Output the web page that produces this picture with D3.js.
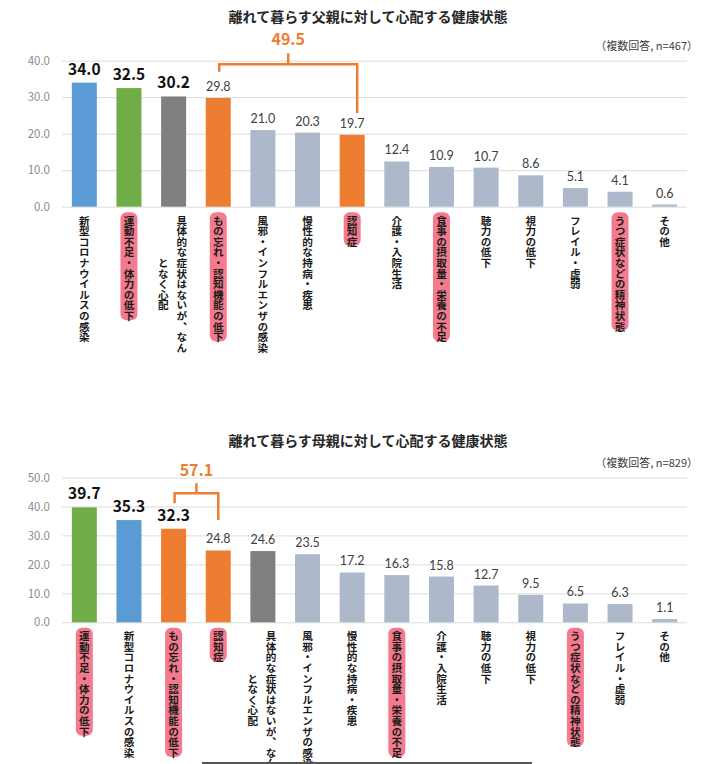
<!DOCTYPE html>
<html>
<head>
<meta charset="utf-8">
<script src="https://cdn.jsdelivr.net/npm/d3@7"></script>
<style>
  body { margin: 0; background: #fff; }
  svg { display: block; }
</style>
</head>
<body>
<div id="chart"></div>
<script>
// data: father chart
const fatherTitle = "離れて暮らす父親に対して心配する健康状態"
const fatherNote = "（複数回答, n=467）"
const fatherCategories = [
  "新型コロナウイルスの感染", "運動不足・体力の低下", "具体的な症状はないが、なんとなく心配",
  "もの忘れ・認知機能の低下", "風邪・インフルエンザの感染", "慢性的な持病・疾患", "認知症",
  "介護・入院生活", "食事の摂取量・栄養の不足", "聴力の低下", "視力の低下",
  "フレイル・虚弱", "うつ症状などの精神状態", "その他"
]
const fatherValues = [34.0, 32.5, 30.2, 29.8, 21.0, 20.3, 19.7, 12.4, 10.9, 10.7, 8.6, 5.1, 4.1, 0.6]
const fatherTicks = [0, 10, 20, 30, 40]
const fatherBracket = { from: "もの忘れ・認知機能の低下", to: "認知症", total: 49.5 }

// data: mother chart
const motherTitle = "離れて暮らす母親に対して心配する健康状態"
const motherNote = "（複数回答, n=829）"
const motherCategories = [
  "運動不足・体力の低下", "新型コロナウイルスの感染", "もの忘れ・認知機能の低下", "認知症",
  "具体的な症状はないが、なんとなく心配", "風邪・インフルエンザの感染", "慢性的な持病・疾患",
  "食事の摂取量・栄養の不足", "介護・入院生活", "聴力の低下", "視力の低下",
  "うつ症状などの精神状態", "フレイル・虚弱", "その他"
]
const motherValues = [39.7, 35.3, 32.3, 24.8, 24.6, 23.5, 17.2, 16.3, 15.8, 12.7, 9.5, 6.5, 6.3, 1.1]
const motherTicks = [0, 10, 20, 30, 40, 50]
const motherBracket = { from: "もの忘れ・認知機能の低下", to: "認知症", total: 57.1 }

// categories marked with the red highlighter
const highlighted = [
  "運動不足・体力の低下", "もの忘れ・認知機能の低下", "認知症",
  "食事の摂取量・栄養の不足", "うつ症状などの精神状態"
]

const colorOf = {
  "新型コロナウイルスの感染": "#5b9bd5",
  "運動不足・体力の低下": "#70ad47",
  "具体的な症状はないが、なんとなく心配": "#7f7f7f",
  "もの忘れ・認知機能の低下": "#ed7d31",
  "認知症": "#ed7d31"
}
const otherColor = "#adb9ca"
const orange = "#ed7d31"

const width = 720
const height = 764
const cjk = "'Noto Sans CJK JP', sans-serif"
const narrow = "'Liberation Sans Narrow', 'Noto Sans CJK JP', sans-serif"

const svg = d3.select("#chart").append("svg")
  .attr("width", width)
  .attr("height", height)

drawChart({
  title: fatherTitle, note: fatherNote, categories: fatherCategories, values: fatherValues,
  ticks: fatherTicks, bracket: fatherBracket,
  titleY: 22, noteY: 50, y0: 206.7, y1: 60.7,
  bracketY: 64.3, bracketTopY: 53.3, totalY: 44.5, leftEnd: 71.7, rightEnd: 113, rightShift: 5
})

drawChart({
  title: motherTitle, note: motherNote, categories: motherCategories, values: motherValues,
  ticks: motherTicks, bracket: motherBracket,
  titleY: 446, noteY: 467, y0: 622.3, y1: 477.5,
  bracketY: 493.3, bracketTopY: 483.3, totalY: 475.5, leftEnd: 503.3, rightEnd: 520, rightShift: 0
})

// dark edge line at the bottom of the picture
svg.append("line")
  .attr("x1", 202).attr("x2", 532)
  .attr("y1", 763).attr("y2", 763)
  .attr("stroke", "#555")
  .attr("stroke-width", 2)

function drawChart(o) {
  const g = svg.append("g")

  const x = d3.scaleBand()
    .domain(o.categories)
    .range([62, 687])
    .paddingInner(0.44)
    .paddingOuter(0.22)

  const y = d3.scaleLinear()
    .domain([0, d3.max(o.ticks)])
    .range([o.y0, o.y1])

  // title and note
  g.append("text")
    .attr("x", 368)
    .attr("y", o.titleY)
    .attr("text-anchor", "middle")
    .style("font-family", cjk)
    .style("font-weight", "bold")
    .style("font-size", "14px")
    .attr("fill", "#262626")
    .text(o.title)

  g.append("text")
    .attr("x", 698)
    .attr("y", o.noteY)
    .attr("text-anchor", "end")
    .style("font-family", narrow)
    .style("font-size", "11px")
    .attr("fill", "#404040")
    .text(o.note)

  // gridlines + y labels
  const yAxis = d3.axisLeft(y)
    .tickValues(o.ticks)
    .tickSize(-625)
    .tickPadding(12)
    .tickFormat(d3.format(".1f"))

  const ax = g.append("g")
    .attr("transform", "translate(62,0)")
    .call(yAxis)
  ax.select(".domain").remove()
  ax.selectAll("line").attr("stroke", "#dcdcdc").attr("stroke-width", 1)
  ax.selectAll("text")
    .attr("fill", "#8c8c8c")
    .style("font-family", narrow)
    .style("font-size", "11.5px")

  const data = o.categories.map((c, i) => ({ cat: c, value: o.values[i], rank: i }))

  // bars
  g.append("g")
    .selectAll("rect")
    .data(data)
    .enter()
    .append("rect")
    .attr("x", d => x(d.cat))
    .attr("y", d => y(d.value))
    .attr("width", x.bandwidth())
    .attr("height", d => o.y0 - y(d.value))
    .attr("fill", d => colorOf[d.cat] || otherColor)

  // value labels (top three in bold)
  g.append("g")
    .selectAll("text")
    .data(data)
    .enter()
    .append("text")
    .attr("x", d => x(d.cat) + x.bandwidth() / 2)
    .attr("y", d => y(d.value) - (d.rank < 3 ? 8 : 7))
    .attr("text-anchor", "middle")
    .style("font-family", d => d.rank < 3 ? narrow : "Lato, sans-serif")
    .style("font-weight", d => d.rank < 3 ? "bold" : "normal")
    .style("font-size", d => d.rank < 3 ? "15.5px" : "12.5px")
    .attr("fill", d => d.rank < 3 ? "#111" : "#404040")
    .text(d => d.value.toFixed(1))

  // vertical category labels
  const charStep = 10.6
  const labelTop = o.y0 + 8.5
  const labels = g.append("g")

  data.forEach(d => {
    const cx = x(d.cat) + x.bandwidth() / 2
    const chars = Array.from(d.cat)
    const lines = []
    for (let i = 0; i < chars.length; i += 13) lines.push(chars.slice(i, i + 13).join(""))
    const maxLen = d3.max(lines, l => Array.from(l).length)

    if (highlighted.includes(d.cat)) {
      labels.append("rect")
        .attr("x", cx - 8.5)
        .attr("y", labelTop - 3)
        .attr("width", 17)
        .attr("height", chars.length * charStep + 2)
        .attr("rx", 6)
        .attr("fill", "#f2647a")
        .attr("opacity", 0.85)
    }

    lines.forEach((line, li) => {
      const offset = (lines.length - 1) / 2 - li
      labels.append("text")
        .attr("x", cx + offset * 18.4 - (lines.length > 1 ? 1 : 0))
        .attr("y", labelTop + (maxLen - Array.from(line).length) / 2 * charStep)
        .style("writing-mode", "vertical-rl")
        .style("font-family", cjk)
        .style("font-weight", "bold")
        .style("font-size", "10.6px")
        .attr("fill", "#1a1a1a")
        .text(line)
    })
  })

  // bracket annotation summing the two dementia-related bars
  const bx1 = x(o.bracket.from) + x.bandwidth() / 2 + 1
  const bx2 = x(o.bracket.to) + x.bandwidth() / 2 + o.rightShift
  const bm = (bx1 + bx2) / 2

  g.append("path")
    .attr("d", `M${bx1},${o.leftEnd}V${o.bracketY}H${bx2}V${o.rightEnd}M${bm},${o.bracketY}V${o.bracketTopY}`)
    .attr("fill", "none")
    .attr("stroke", orange)
    .attr("stroke-width", 2.5)

  g.append("text")
    .attr("x", bm)
    .attr("y", o.totalY)
    .attr("text-anchor", "middle")
    .style("font-family", narrow)
    .style("font-weight", "bold")
    .style("font-size", "16px")
    .attr("fill", orange)
    .text(o.bracket.total.toFixed(1))
}
</script>
</body>
</html>
